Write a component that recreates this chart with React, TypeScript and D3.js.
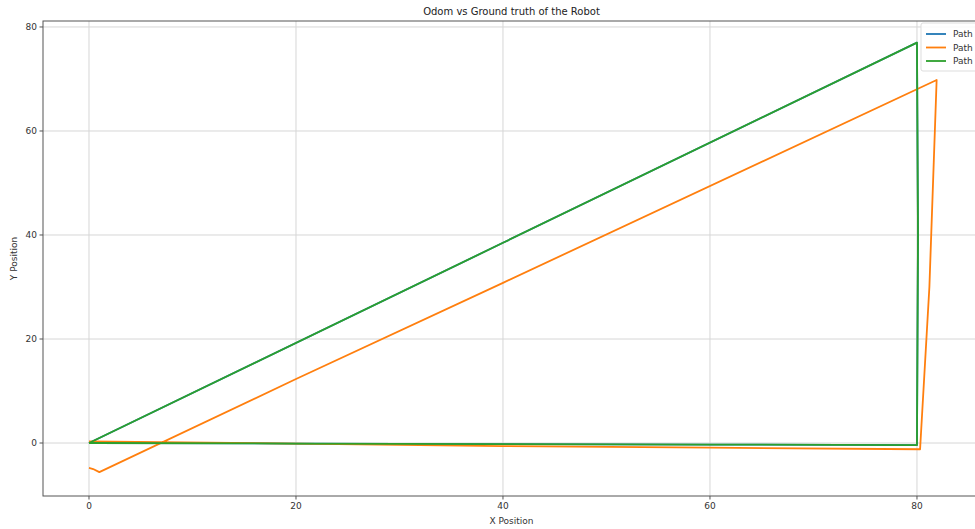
import React from "react";
import * as d3 from "d3";

const title = "Odom vs Ground truth of the Robot";
const xLabel = "X Position";
const yLabel = "Y Position";
const xTicks = [0, 20, 40, 60, 80];
const yTicks = [0, 20, 40, 60, 80];
const legendLabels = ["Path", "Path", "Path"];
const seriesColors = ["#1f77b4", "#ff7f0e", "#2ca02c"];

// Path 1 (blue) – hidden under path 3
const path1X = [0, 20, 40, 60, 80, 80.1, 80.0, 40, 0];
const path1Y = [0, -0.1, -0.2, -0.3, -0.4, 40, 77, 38.5, 0];
// Path 2 (orange, odometry)
const path2X = [0, 20, 40, 60, 80.3, 81.2, 81.9, 40, 20, 1.0, 0.4, 0];
const path2Y = [0.3, -0.1, -0.6, -0.9, -1.2, 30, 69.8, 30.8, 12.3, -5.6, -5.0, -4.8];
// Path 3 (green, ground truth)
const path3X = [0, 20, 40, 60, 80, 80.1, 80.0, 40, 0];
const path3Y = [0, -0.1, -0.2, -0.3, -0.4, 40, 77, 38.5, 0];

const W = 975;
const H = 529;
const left = 43;
const top = 21;
const right = 980;
const bottom = 496;

export default function App() {
  const x = d3.scaleLinear().domain([-4.444, 86.09]).range([left, right]);
  const y = d3.scaleLinear().domain([-10.19, 81.15]).range([bottom, top]);
  const line = d3
    .line<[number, number]>()
    .x((d) => x(d[0]))
    .y((d) => y(d[1]));
  const series = [
    { xs: path1X, ys: path1Y, color: seriesColors[0] },
    { xs: path2X, ys: path2Y, color: seriesColors[1] },
    { xs: path3X, ys: path3Y, color: seriesColors[2] },
  ];
  const font = "DejaVu Sans, sans-serif";
  return (
    <svg
      width={W}
      height={H}
      style={{ position: "absolute", left: 0, top: 0, background: "#fff" }}
      fontFamily={font}
    >
      <defs>
        <clipPath id="plot">
          <rect x={left} y={top} width={right - left} height={bottom - top} />
        </clipPath>
      </defs>
      {/* grid */}
      {xTicks.map((t) => (
        <line key={"gx" + t} x1={x(t)} x2={x(t)} y1={top} y2={bottom} stroke="#d6d6d6" strokeWidth={1} />
      ))}
      {yTicks.map((t) => (
        <line key={"gy" + t} x1={left} x2={right} y1={y(t)} y2={y(t)} stroke="#d6d6d6" strokeWidth={1} />
      ))}
      {/* lines */}
      <g clipPath="url(#plot)">
        {series.map((s, i) => (
          <path
            key={i}
            d={line(s.xs.map((v, j) => [v, s.ys[j]] as [number, number])) || ""}
            fill="none"
            stroke={s.color}
            strokeWidth={1.8}
            strokeLinejoin="round"
          />
        ))}
      </g>
      {/* spines */}
      <rect x={left} y={top} width={right - left} height={bottom - top} fill="none" stroke="#555" strokeWidth={1} />
      {/* x ticks */}
      {xTicks.map((t) => (
        <g key={"xt" + t}>
          <line x1={x(t)} x2={x(t)} y1={bottom} y2={bottom + 3.5} stroke="#555" />
          <text x={x(t)} y={bottom + 13} fontSize={9} fill="#333" textAnchor="middle">
            {t}
          </text>
        </g>
      ))}
      {yTicks.map((t) => (
        <g key={"yt" + t}>
          <line x1={left - 3.5} x2={left} y1={y(t)} y2={y(t)} stroke="#555" />
          <text x={left - 6} y={y(t) + 3} fontSize={9} fill="#333" textAnchor="end">
            {t}
          </text>
        </g>
      ))}
      <text x={(left + right) / 2} y={524} fontSize={9} fill="#333" textAnchor="middle">
        {xLabel}
      </text>
      <text
        transform={`translate(17,${(top + bottom) / 2}) rotate(-90)`}
        fontSize={9}
        fill="#333"
        textAnchor="middle"
      >
        {yLabel}
      </text>
      <text x={(left + right) / 2} y={15} fontSize={10} fill="#222" textAnchor="middle">
        {title}
      </text>
      {/* legend */}
      <rect x={921} y={23} width={70} height={48} rx={2} fill="#fff" fillOpacity={0.85} stroke="#ddd" />
      {legendLabels.map((l, i) => (
        <g key={"lg" + i}>
          <line x1={926} x2={946} y1={34 + i * 13.5} y2={34 + i * 13.5} stroke={seriesColors[i]} strokeWidth={1.8} />
          <text x={953} y={37 + i * 13.5} fontSize={9} fill="#333">
            {l}
          </text>
        </g>
      ))}
    </svg>
  );
}
